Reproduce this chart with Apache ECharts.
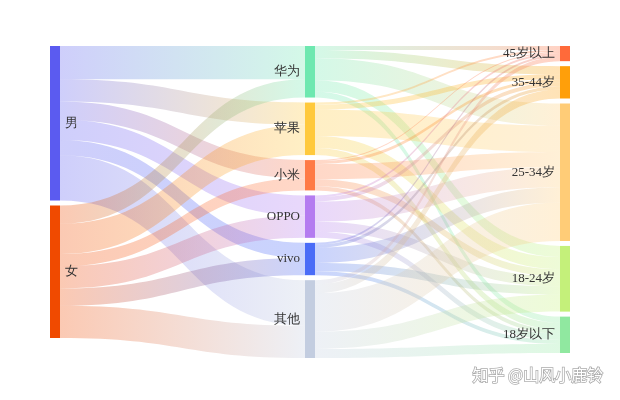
<!DOCTYPE html><html><head><meta charset="utf-8"><script src="https://cdn.jsdelivr.net/npm/echarts@6/dist/echarts.min.js"></script></head><body style="margin:0"><div id="c" style="width:620px;height:400px"></div><script>
const nodes=[['男','#5b5bf0'],['女','#f04a00'],['华为','#6ee8b0'],['苹果','#ffc93c'],['小米','#ff7a45'],['OPPO','#b47cf0'],['vivo','#4a6cf7'],['其他','#c3cde0'],['45岁以上','#ff6a3a'],['35-44岁','#ff9f0a'],['25-34岁','#ffcc77'],['18-24岁','#c4f07a'],['18岁以下','#90e8a0']];
const genders=['男','女'];
const brands=['华为','苹果','小米','OPPO','vivo','其他'];
const ages=['45岁以上','35-44岁','25-34岁','18-24岁','18岁以下'];
const genderBrand=[[33,22,18,20,15,45],[18,30,12,22,17,32]];
const brandAge=[[4,8,22,11,6],[2,5,26,12,7],[1,3,15,7,4],[2,4,20,10,6],[2,3,15,8,4],[4,9,38,17,9]];
const links=[];
genders.forEach((g,i)=>brands.forEach((b,j)=>links.push({source:g,target:b,value:genderBrand[i][j]})));
brands.forEach((b,i)=>ages.forEach((a,j)=>links.push({source:b,target:a,value:brandAge[i][j]})));
const ch=echarts.init(document.getElementById('c'));
ch.setOption({series:[{type:'sankey',left:50,right:50,top:46,bottom:42,nodeWidth:10,nodeGap:5,layoutIterations:0,
data:nodes.map(([n,c])=>({name:n,itemStyle:{color:c},label:{position:genders.includes(n)?'right':'left'}})),
links,lineStyle:{color:'gradient',opacity:0.3,curveness:0.5},
label:{fontFamily:'Liberation Serif, serif',fontSize:13,color:'#333'}}],
graphic:[{type:'text',right:16,bottom:16,z:100,style:{text:'知乎 @山风小鹿铃',fill:'#fff',stroke:'rgba(0,0,0,0.35)',lineWidth:1.5,font:'16px "Noto Sans CJK SC"'}}]});
</script></body></html>
